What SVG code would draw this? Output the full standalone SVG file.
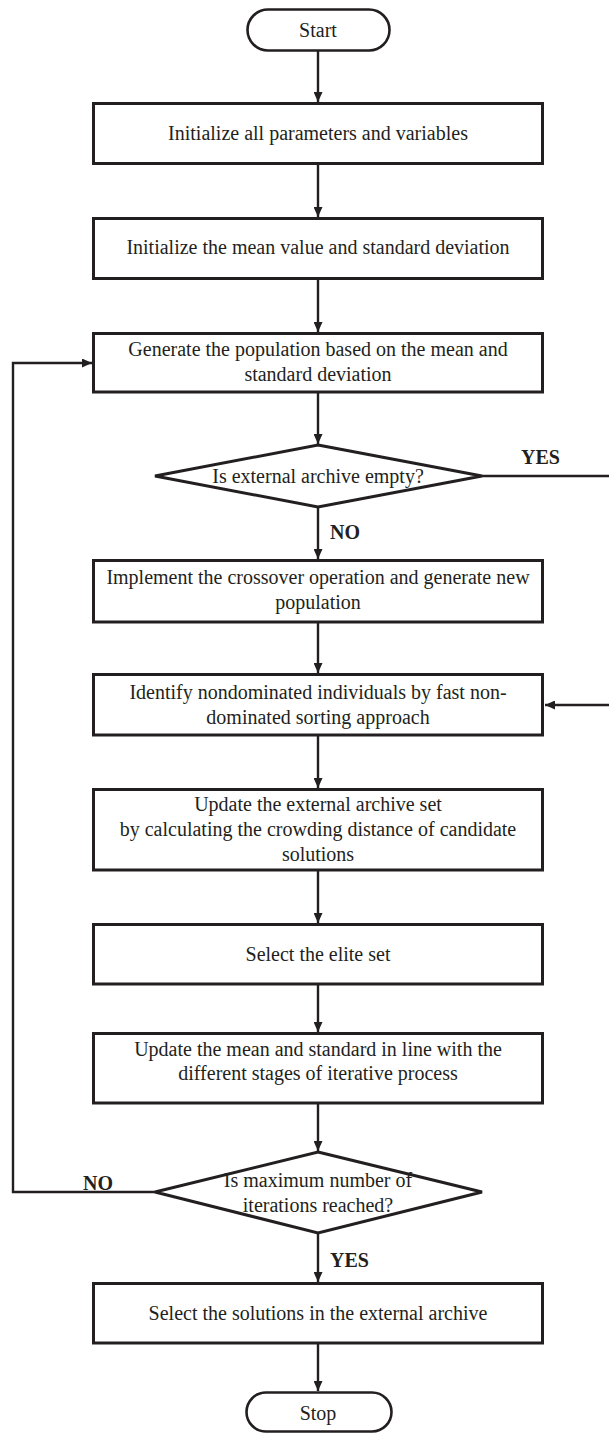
<svg xmlns="http://www.w3.org/2000/svg" width="609" height="1433" viewBox="0 0 609 1433">
<style>
  .box{fill:#fff;stroke:#231f20;stroke-width:3}
  .term{fill:#fff;stroke:#231f20;stroke-width:2.6}
  .con{fill:none;stroke:#231f20;stroke-width:2.4}
  text{font-family:"Liberation Serif","Times New Roman",serif;font-size:20px;fill:#231f20}
  .c{text-anchor:middle}
  .lbl{font-weight:bold}
</style>
<defs>
  <marker id="arr" markerUnits="userSpaceOnUse" markerWidth="10" markerHeight="9" refX="10" refY="4.5" orient="auto">
    <path d="M0,0 L10,4.5 L0,9 z" fill="#231f20"/>
  </marker>
</defs>
<rect width="609" height="1433" fill="#fff"/>
<g id="connectors">
  <path class="con" d="M318,51 V102" marker-end="url(#arr)"/>
  <path class="con" d="M318,165 V217" marker-end="url(#arr)"/>
  <path class="con" d="M318,279 V332" marker-end="url(#arr)"/>
  <path class="con" d="M318,393 V444" marker-end="url(#arr)"/>
  <path class="con" d="M318,508 V559" marker-end="url(#arr)"/>
  <path class="con" d="M318,623 V673" marker-end="url(#arr)"/>
  <path class="con" d="M318,736 V788" marker-end="url(#arr)"/>
  <path class="con" d="M318,871 V923" marker-end="url(#arr)"/>
  <path class="con" d="M318,985 V1032" marker-end="url(#arr)"/>
  <path class="con" d="M318,1104 V1151" marker-end="url(#arr)"/>
  <path class="con" d="M318,1234 V1282" marker-end="url(#arr)"/>
  <path class="con" d="M318,1344 V1391" marker-end="url(#arr)"/>
  <path class="con" d="M482,476 H609"/>
  <path class="con" d="M609,705 H545" marker-end="url(#arr)"/>
  <path class="con" d="M155,1192 H13 V363 H92" marker-end="url(#arr)"/>
  <text class="lbl" x="521" y="464">YES</text>
  <text class="lbl" x="330" y="539">NO</text>
  <text class="lbl" x="83" y="1190">NO</text>
  <text class="lbl" x="330" y="1267">YES</text>
</g>
<g id="start">
  <rect class="term" x="247.5" y="9.5" width="142" height="41" rx="20.5"/>
  <text class="c" x="318" y="37">Start</text>
</g>
<g id="init-params">
  <rect class="box" x="93.5" y="103.5" width="449" height="60"/>
  <text class="c" x="318" y="140">Initialize all parameters and variables</text>
</g>
<g id="init-mean">
  <rect class="box" x="93.5" y="218.5" width="449" height="60"/>
  <text class="c" x="318" y="254">Initialize the mean value and standard deviation</text>
</g>
<g id="generate">
  <rect class="box" x="93.5" y="333.5" width="449" height="58.5"/>
  <text class="c" x="318" y="356">Generate the population based on the mean and</text>
  <text class="c" x="318" y="381">standard deviation</text>
</g>
<g id="archive-empty">
  <polygon class="box" points="318,445 482,476 318,507 155,476"/>
  <text class="c" x="318" y="483">Is external archive empty?</text>
</g>
<g id="crossover">
  <rect class="box" x="93.5" y="560.5" width="449" height="61.5"/>
  <text class="c" x="318" y="584">Implement the crossover operation and generate new</text>
  <text class="c" x="318" y="609">population</text>
</g>
<g id="identify">
  <rect class="box" x="93.5" y="674.5" width="449" height="60.5"/>
  <text class="c" x="318" y="699">Identify nondominated individuals by fast non-</text>
  <text class="c" x="318" y="724">dominated sorting approach</text>
</g>
<g id="update-archive">
  <rect class="box" x="93.5" y="789.5" width="449" height="80.5"/>
  <text class="c" x="318" y="811">Update the external archive set</text>
  <text class="c" x="318" y="836">by calculating the crowding distance of candidate</text>
  <text class="c" x="318" y="861">solutions</text>
</g>
<g id="elite">
  <rect class="box" x="93.5" y="924.5" width="449" height="59.5"/>
  <text class="c" x="318" y="961">Select the elite set</text>
</g>
<g id="update-mean">
  <rect class="box" x="93.5" y="1033.5" width="449" height="69.5"/>
  <text class="c" x="318" y="1056">Update the mean and standard in line with the</text>
  <text class="c" x="318" y="1080">different stages of iterative process</text>
</g>
<g id="max-iter">
  <polygon class="box" points="318,1152 482,1192 318,1233 155,1192"/>
  <text class="c" x="318" y="1187">Is maximum number of</text>
  <text class="c" x="318" y="1212">iterations reached?</text>
</g>
<g id="select-solutions">
  <rect class="box" x="93.5" y="1283.5" width="449" height="59.5"/>
  <text class="c" x="318" y="1320">Select the solutions in the external archive</text>
</g>
<g id="stop">
  <rect class="term" x="246.5" y="1392.5" width="145" height="39" rx="19.5"/>
  <text class="c" x="318" y="1420">Stop</text>
</g>
</svg>
